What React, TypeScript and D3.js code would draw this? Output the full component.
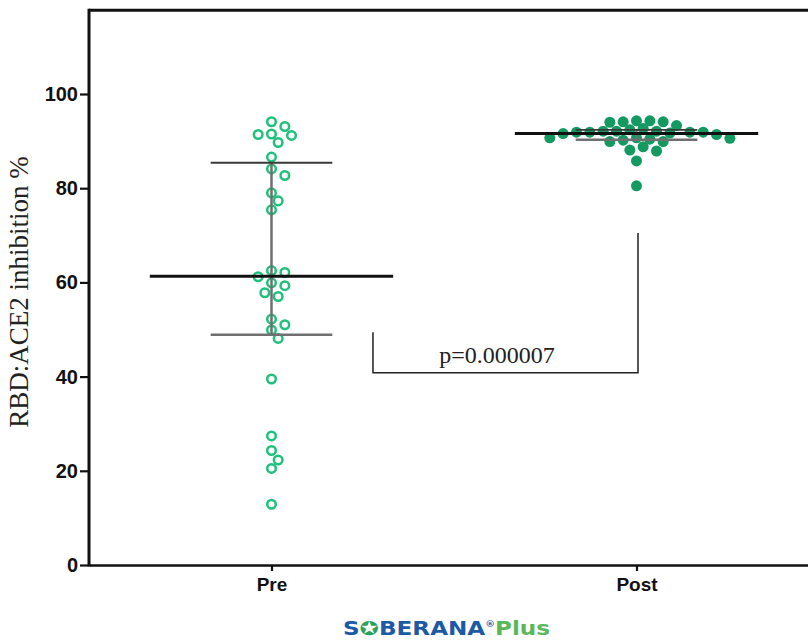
import { useEffect, useRef } from "react";
import * as d3 from "d3";

const groups = ["Pre", "Post"];
const preValues = [
  94.1, 93.1, 91.5, 91.2, 91.4, 89.7, 86.6, 84.1, 82.7, 79.0, 77.3, 75.4,
  62.1, 62.5, 61.2, 59.9, 59.3, 57.8, 57.0, 52.2, 51.0, 49.9, 48.1,
  39.5, 27.4, 24.3, 22.3, 20.5, 12.9,
];
const postValues = [
  94.3, 94.1, 93.3, 94.0, 94.1, 94.3, 91.9, 91.6, 91.4, 92.4, 92.1, 92.1,
  92.1, 92.7, 91.9, 91.7, 91.9, 91.9, 90.7, 90.4, 89.9, 89.9, 90.2, 90.6,
  90.7, 88.1, 88.8, 87.9, 85.8, 80.5,
];
const medians = [61.3, 91.6];
const q1 = [48.9, 90.3];
const q3 = [85.4, 92.4];
const yTicks = [0, 20, 40, 60, 80, 100];
const yMax = 117.8;
// bracket: left leg top, bottom, right leg top (in %)
const bracketLevels = [49.4, 40.8, 70.5];
const pText = "p=0.000007";
const pLevel = 42.9;

export default function App() {
  const svgRef = useRef<SVGSVGElement>(null);

  useEffect(() => {
    if (!svgRef.current) return;
    const W = 808, H = 644;
    const left = 89, bottom = 565;

    const root = d3.select(svgRef.current);
    root.selectAll("*").remove();
    root.attr("width", W).attr("height", H).attr("viewBox", `0 0 ${W} ${H}`);

    const y = d3.scaleLinear().domain([0, 100]).range([bottom, 94]);
    const x = d3.scalePoint<string>().domain(groups).range([left, 819]).padding(0.5);
    const step = x.step();

    // beeswarm placement
    function swarm(vals: number[], cx: number) {
      const slot = 6.67, minD = 10;
      const placed: { x: number; y: number; v: number }[] = [];
      const order = vals.map((_, i) => i).sort((a, b) => vals[b] - vals[a]);
      for (const i of order) {
        const cy = y(vals[i]);
        let done = false;
        for (let k = 0; k < 40 && !done; k++) {
          const cands = k === 0 ? [0] : [k, -k];
          for (const c of cands) {
            const px = cx + c * slot;
            if (placed.every(p => Math.hypot(p.x - px, p.y - cy) >= minD)) {
              placed.push({ x: px, y: cy, v: vals[i] });
              done = true;
              break;
            }
          }
        }
      }
      return placed;
    }

    const g = root.append("g");

    // top frame line
    g.append("line")
      .attr("x1", left).attr("x2", W)
      .attr("y1", y(yMax)).attr("y2", y(yMax))
      .attr("stroke", "#111").attr("stroke-width", 3);

    // y axis
    const yAxis = d3.axisLeft(y).tickValues(yTicks).tickSize(9).tickPadding(2).tickSizeOuter(0);
    const ya = g.append("g").attr("transform", `translate(${left},0)`).call(yAxis);
    ya.select(".domain").remove();
    ya.selectAll(".tick line").attr("stroke", "#111").attr("stroke-width", 2.2);
    ya.selectAll("text")
      .attr("fill", "#111")
      .style("font-family", "'Liberation Sans', Arial, sans-serif")
      .style("font-weight", "bold")
      .style("font-size", "20px");
    g.append("line")
      .attr("x1", left).attr("x2", left)
      .attr("y1", y(yMax) - 1.5).attr("y2", bottom + 1.5)
      .attr("stroke", "#111").attr("stroke-width", 3);

    // x axis
    const xAxis = d3.axisBottom(x).tickSize(6).tickPadding(7).tickSizeOuter(0);
    const xa = g.append("g").attr("transform", `translate(0,${bottom})`).call(xAxis);
    xa.select(".domain").attr("stroke", "#111").attr("stroke-width", 2.6);
    xa.selectAll(".tick line").attr("stroke", "#111").attr("stroke-width", 2.2);
    xa.selectAll("text")
      .attr("fill", "#111")
      .style("font-family", "'Liberation Sans', Arial, sans-serif")
      .style("font-weight", "bold")
      .style("font-size", "19px");

    // y label
    g.append("text")
      .attr("transform", `translate(28,292) rotate(-90)`)
      .attr("text-anchor", "middle")
      .style("font-family", "'Liberation Serif', 'Times New Roman', serif")
      .style("font-size", "27px")
      .attr("fill", "#222")
      .text("RBD:ACE2 inhibition %");

    // points
    const prePts = swarm(preValues, x("Pre")!);
    const postPts = swarm(postValues, x("Post")!);

    g.selectAll(".pre")
      .data(prePts)
      .enter()
      .append("circle")
      .attr("class", "pre")
      .attr("cx", d => d.x).attr("cy", d => d.y)
      .attr("r", 4.3)
      .attr("fill", "none")
      .attr("stroke", "#1fc17c")
      .attr("stroke-width", 2.5);

    g.selectAll(".post")
      .data(postPts)
      .enter()
      .append("circle")
      .attr("class", "post")
      .attr("cx", d => d.x).attr("cy", d => d.y)
      .attr("r", 5.5)
      .attr("fill", "#149a61");

    // median + IQR
    groups.forEach((grp, i) => {
      const cx = x(grp)!;
      const half = step / 3;
      const qHalf = step / 6;
      g.append("line")
        .attr("x1", cx).attr("x2", cx)
        .attr("y1", y(q1[i])).attr("y2", y(q3[i]))
        .attr("stroke", "#6f6f6f").attr("stroke-width", 2.5);
      g.append("line")
        .attr("x1", cx - qHalf).attr("x2", cx + qHalf)
        .attr("y1", y(q3[i])).attr("y2", y(q3[i]))
        .attr("stroke", "#3a3a3a").attr("stroke-width", 1.8);
      g.append("line")
        .attr("x1", cx - qHalf).attr("x2", cx + qHalf)
        .attr("y1", y(q1[i])).attr("y2", y(q1[i]))
        .attr("stroke", "#707070").attr("stroke-width", 2.5);
      g.append("line")
        .attr("x1", cx - half).attr("x2", cx + half)
        .attr("y1", y(medians[i])).attr("y2", y(medians[i]))
        .attr("stroke", "#111").attr("stroke-width", 3);
    });

    // significance bracket
    const bx1 = x("Pre")! + step * 0.278;
    const bx2 = x("Post")! + 1.5;
    g.append("path")
      .attr("d", d3.line()([
        [bx1, y(bracketLevels[0])],
        [bx1, y(bracketLevels[1])],
        [bx2, y(bracketLevels[1])],
        [bx2, y(bracketLevels[2])],
      ]))
      .attr("fill", "none")
      .attr("stroke", "#222")
      .attr("stroke-width", 1.5);
    g.append("text")
      .attr("x", bx1 + 124).attr("y", y(pLevel))
      .attr("text-anchor", "middle")
      .style("font-family", "'Liberation Serif', 'Times New Roman', serif")
      .style("font-size", "24px")
      .attr("fill", "#222")
      .text(pText);

    // logo
    const logo = g.append("text")
      .attr("x", 343).attr("y", 635)
      .attr("textLength", 207)
      .attr("lengthAdjust", "spacingAndGlyphs")
      .style("font-family", "'DejaVu Sans', Verdana, sans-serif")
      .style("font-weight", "bold")
      .style("font-size", "19px");
    logo.append("tspan").attr("fill", "#1c5aa6").text("S");
    logo.append("tspan").attr("fill", "#2aa35a").text("✪");
    logo.append("tspan").attr("fill", "#1c5aa6").text("BERANA");
    logo.append("tspan").attr("fill", "#1c5aa6").attr("font-size", "8px").attr("dy", -8).text("®");
    logo.append("tspan").attr("fill", "#5bb85a").attr("dy", 8).text("Plus");
  }, []);

  return (
    <svg
      ref={svgRef}
      style={{ position: "absolute", left: 0, top: 0, display: "block", background: "#fff" }}
    />
  );
}
